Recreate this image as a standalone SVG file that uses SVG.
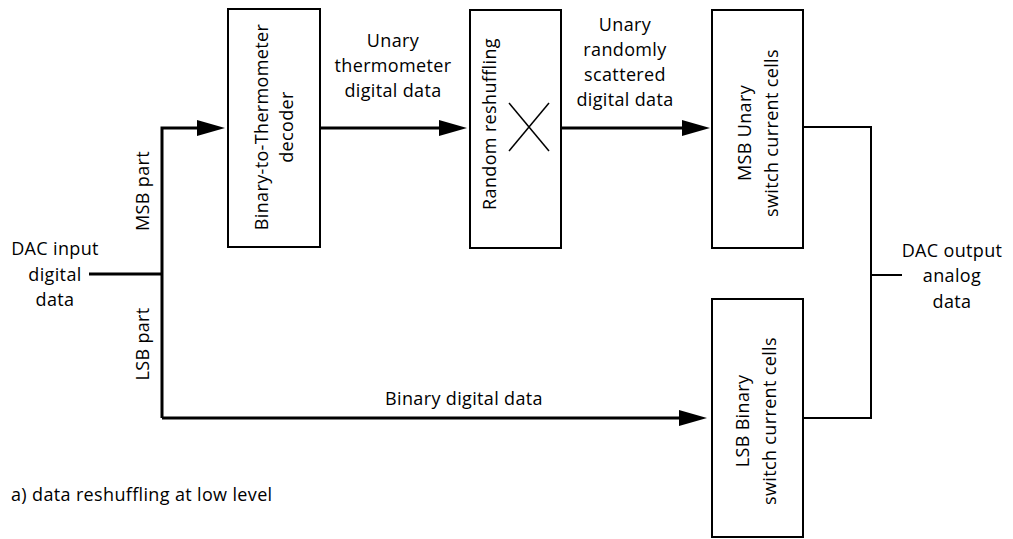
<svg xmlns="http://www.w3.org/2000/svg" width="1013" height="539" viewBox="0 0 1013 539">
<style>
text{font-family:"Open Sans","Liberation Sans",sans-serif;font-size:18px;letter-spacing:0.35px;fill:#000;text-anchor:middle}
.box{fill:#fff;stroke:#000;stroke-width:2}
.bus{fill:none;stroke:#000;stroke-width:3}
.thin{fill:none;stroke:#000;stroke-width:2}
.x{stroke:#000;stroke-width:1.5}
</style>
<defs>
<marker id="ah" markerUnits="userSpaceOnUse" markerWidth="28" markerHeight="16" refX="0" refY="8" orient="auto" overflow="visible">
<path d="M0,0 L28,8 L0,16 z" fill="#000"/>
</marker>
</defs>
<rect width="1013" height="539" fill="#fff"/>
<g id="connectors">
<path class="bus" d="M89,274 H162"/>
<path class="bus" d="M162,418 V128 H197" marker-end="url(#ah)"/>
<path class="bus" d="M320,128 H439" marker-end="url(#ah)"/>
<path class="bus" d="M561,128 H682" marker-end="url(#ah)"/>
<path class="bus" d="M162,418 H679" marker-end="url(#ah)"/>
<path class="thin" d="M803,127 H871 V418 H803"/>
<path class="thin" d="M871,275 H902"/>
</g>
<g id="node-decoder">
<rect class="box" x="228" y="9" width="92" height="238"/>
<text transform="translate(268,127) rotate(-90)">Binary-to-Thermometer</text>
<text transform="translate(293,127) rotate(-90)">decoder</text>
</g>
<g id="node-reshuffle">
<rect class="box" x="470" y="10" width="91" height="238"/>
<text transform="translate(496,124) rotate(-90)">Random reshuffling</text>
<line class="x" x1="509" y1="103" x2="549" y2="151"/>
<line class="x" x1="509" y1="151" x2="549" y2="103"/>
</g>
<g id="node-msb">
<rect class="box" x="712" y="10" width="91" height="238"/>
<text transform="translate(751,133) rotate(-90)">MSB Unary</text>
<text transform="translate(778,133) rotate(-90)">switch current cells</text>
</g>
<g id="node-lsb">
<rect class="box" x="712" y="299" width="91" height="238"/>
<text transform="translate(749,421) rotate(-90)">LSB Binary</text>
<text transform="translate(776,421) rotate(-90)">switch current cells</text>
</g>
<g id="labels">
<text x="55" y="255">DAC input</text>
<text x="55" y="281">digital</text>
<text x="55" y="306">data</text>
<text transform="translate(149,191) rotate(-90)">MSB part</text>
<text transform="translate(149,344) rotate(-90)">LSB part</text>
<text x="393" y="47">Unary</text>
<text x="393" y="72">thermometer</text>
<text x="393" y="97">digital data</text>
<text x="625" y="31">Unary</text>
<text x="625" y="56">randomly</text>
<text x="625" y="81">scattered</text>
<text x="625" y="106">digital data</text>
<text x="464" y="405">Binary digital data</text>
<text x="952" y="257">DAC output</text>
<text x="952" y="282">analog</text>
<text x="952" y="308">data</text>
<text x="11" y="501" style="text-anchor:start">a) data reshuffling at low level</text>
</g>
</svg>
